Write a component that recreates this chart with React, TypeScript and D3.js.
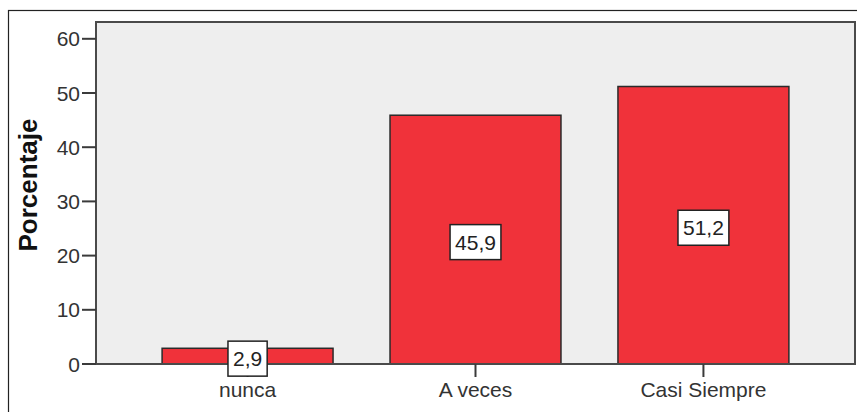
import React from "react";
import * as d3 from "d3";

const categories = ["nunca", "A veces", "Casi Siempre"];
const percentages = [2.9, 45.9, 51.2];
const valueLabels = ["2,9", "45,9", "51,2"];
const yTicks = [0, 10, 20, 30, 40, 50, 60];

const W = 857;
const H = 412;
const plot = { left: 96, right: 855, top: 22, bottom: 364 };
const FONT = "'Liberation Sans', Arial, Helvetica, sans-serif";

function measure(text: string, font: string): number {
  const c = document.createElement("canvas").getContext("2d");
  if (!c) return text.length * 11;
  c.font = font;
  return c.measureText(text).width;
}

export default function App() {
  const x = d3
    .scaleBand<string>()
    .domain(categories)
    .range([plot.left, plot.right])
    .paddingInner(0.25)
    .paddingOuter(0.29);
  const y = d3.scaleLinear().domain([0, 63.1]).range([plot.bottom, plot.top]);

  const labelFont = `21px ${FONT}`;

  return (
    <svg
      width={W}
      height={H}
      style={{ position: "absolute", left: 0, top: 0, display: "block", background: "#fff" }}
    >
      {/* outer chart frame */}
      <rect x={8.5} y={10.5} width={W} height={H} fill="none" stroke="#222" strokeWidth={1.2} />

      {/* plot area */}
      <rect
        x={plot.left}
        y={plot.top}
        width={plot.right - plot.left}
        height={plot.bottom - plot.top}
        fill="#EEEEEE"
      />

      {/* bars */}
      {categories.map((c, i) => (
        <rect
          key={c}
          x={x(c)}
          y={y(percentages[i])}
          width={x.bandwidth()}
          height={y(0) - y(percentages[i])}
          fill="#F0323A"
          stroke="#2a2a2a"
          strokeWidth={1.5}
        />
      ))}

      {/* plot border */}
      <rect
        x={plot.left}
        y={plot.top}
        width={plot.right - plot.left}
        height={plot.bottom - plot.top}
        fill="none"
        stroke="#4a4a4a"
        strokeWidth={2}
      />

      {/* y axis ticks and labels */}
      {yTicks.map((t) => (
        <g key={t}>
          <line x1={82} x2={plot.left} y1={y(t)} y2={y(t)} stroke="#3a3a3a" strokeWidth={2} />
          <text
            x={80}
            y={y(t)}
            dy="0.36em"
            textAnchor="end"
            fontFamily={FONT}
            fontSize={21}
            fill="#333"
          >
            {t}
          </text>
        </g>
      ))}

      {/* y axis title */}
      <text
        transform="translate(37, 185) rotate(-90)"
        textAnchor="middle"
        fontFamily={FONT}
        fontSize={26}
        fontWeight="bold"
        fill="#111"
      >
        Porcentaje
      </text>

      {/* x axis ticks and labels */}
      {categories.map((c) => {
        const cx = (x(c) as number) + x.bandwidth() / 2;
        return (
          <g key={c}>
            <line x1={cx} x2={cx} y1={plot.bottom} y2={plot.bottom + 13} stroke="#3a3a3a" strokeWidth={2} />
            <text
              x={cx}
              y={397}
              textAnchor="middle"
              fontFamily={FONT}
              fontSize={21}
              fill="#333"
            >
              {c}
            </text>
          </g>
        );
      })}

      {/* value labels */}
      {categories.map((c, i) => {
        const cx = (x(c) as number) + x.bandwidth() / 2;
        const cy = (y(0) + y(percentages[i])) / 2 + 2.5;
        const tw = measure(valueLabels[i], labelFont);
        const bw = tw + 10;
        const bh = 35;
        return (
          <g key={c}>
            <rect
              x={cx - bw / 2}
              y={cy - bh / 2}
              width={bw}
              height={bh}
              fill="#fff"
              stroke="#222"
              strokeWidth={1.5}
            />
            <text
              x={cx}
              y={cy}
              dy="0.36em"
              textAnchor="middle"
              fontFamily={FONT}
              fontSize={21}
              fill="#222"
            >
              {valueLabels[i]}
            </text>
          </g>
        );
      })}
    </svg>
  );
}
